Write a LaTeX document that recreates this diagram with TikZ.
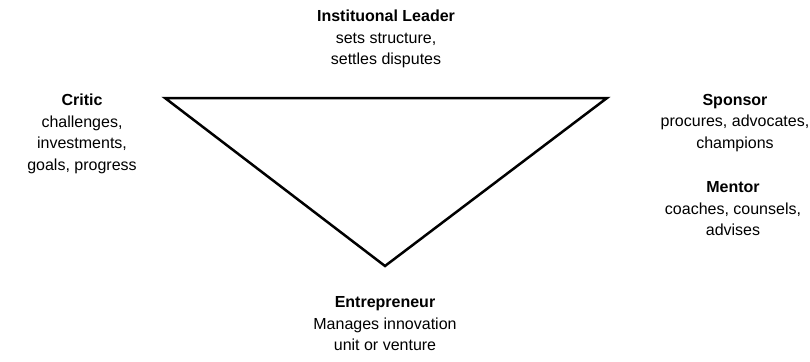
\documentclass[tikz,border=0pt]{standalone}
\usepackage{fontspec}
\setmainfont{Liberation Sans}
\usepackage{tikz}
\usetikzlibrary{positioning}
\tikzset{
x=1pt, y=-1pt, % pixel-like grid, y grows downwards
role/.style={align=center, inner sep=0pt, font=\fontsize{16}{21.5}\selectfont}, % text block for each role
edge/.style={line width=2.5pt, line join=miter}, % the triangle sides
}

\begin{document}
\begin{tikzpicture}
    \useasboundingbox (0,0) rectangle (810,361);
    % corners of the triangle
    \coordinate (left) at (165,98);
    \coordinate (right) at (607,98);
    \coordinate (bottom) at (385,266);
    \draw[edge] (left) -- (right) -- (bottom) -- cycle;

    \node[role] (leader) at (386,39) {\textbf{Instituonal Leader}\\sets structure,\\settles disputes};
    \node[role] (critic) at (82,134) {\textbf{Critic}\\challenges,\\investments,\\goals, progress};
    \node[role] (sponsor) at (735,123) {\textbf{Sponsor}\\procures, advocates,\\champions};
    \node[role] (mentor) at (733,209) {\textbf{Mentor}\\coaches, counsels,\\advises};
    \node[role] (entrepreneur) at (385,324) {\textbf{Entrepreneur}\\Manages innovation\\unit or venture};
\end{tikzpicture}
\end{document}
